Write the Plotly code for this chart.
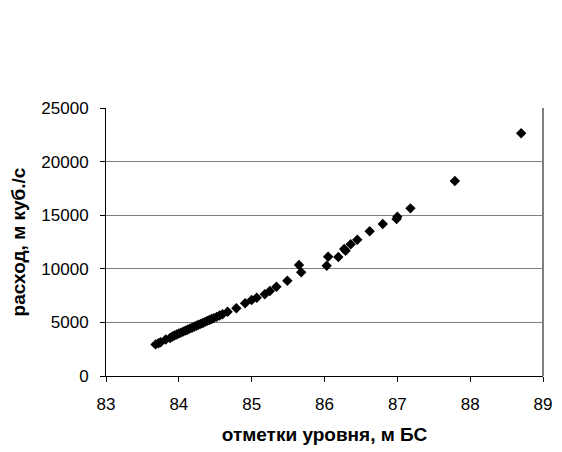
import plotly.graph_objects as go

level = [83.68, 83.72, 83.75, 83.82, 83.88, 83.91, 83.94, 83.97, 84.00, 84.03,
         84.06, 84.09, 84.12, 84.15, 84.18, 84.21, 84.24, 84.27, 84.30, 84.33,
         84.36, 84.39, 84.42, 84.45, 84.48, 84.52, 84.56, 84.60, 84.67, 84.79,
         84.91, 85.00, 85.07, 85.18, 85.25, 85.34, 85.49, 85.65, 85.68, 86.03,
         86.05, 86.19, 86.27, 86.29, 86.36, 86.45, 86.62, 86.80, 86.99, 87.00,
         87.18, 87.79, 88.70]
discharge = [2950, 3050, 3150, 3400, 3550, 3680, 3780, 3870, 3960, 4050,
             4140, 4230, 4320, 4420, 4500, 4600, 4690, 4780, 4860, 4950,
             5050, 5140, 5230, 5320, 5400, 5520, 5640, 5760, 5990, 6320,
             6780, 7090, 7300, 7620, 7930, 8330, 8880, 10350, 9670, 10290,
             11130, 11100, 11850, 11690, 12290, 12710, 13500, 14180, 14650, 14860,
             15640, 18190, 22650]

x_ticks = [83, 84, 85, 86, 87, 88, 89]
y_ticks = [0, 5000, 10000, 15000, 20000, 25000]

FAM = "Liberation Sans, Arial, sans-serif"

fig = go.Figure()
fig.add_trace(go.Scatter(
    x=level, y=discharge, mode="markers",
    marker=dict(symbol="diamond", size=8, color="black"),
    showlegend=False,
))

fig.update_layout(
    width=562, height=452,
    margin=dict(l=106, r=10, t=108, b=76),
    paper_bgcolor="white", plot_bgcolor="white",
    font=dict(family=FAM, size=17, color="black"),
    xaxis=dict(
        range=[83, 89], tickvals=x_ticks, ticks="outside", ticklen=5,
        tickcolor="black", showline=True, linecolor="black", linewidth=1,
        showgrid=False, zeroline=False, ticklabelstandoff=8,
        tickfont=dict(family=FAM, size=17),
        title=dict(text="<b>отметки уровня, м БС</b>", standoff=14,
                   font=dict(family=FAM, size=19)),
    ),
    yaxis=dict(
        range=[0, 25000], tickvals=y_ticks, tickformat="d",
        ticks="outside", ticklen=5,
        tickcolor="black", showline=True, linecolor="black", linewidth=1,
        showgrid=True, gridcolor="#808080", gridwidth=1, zeroline=False,
        ticklabelstandoff=8, tickfont=dict(family=FAM, size=17),
        title=dict(text="<b>расход, м куб./с</b>", standoff=10,
                   font=dict(family=FAM, size=19)),
    ),
    shapes=[
        dict(type="line", xref="paper", yref="paper", x0=1, x1=1, y0=0, y1=1,
             line=dict(color="#808080", width=2)),
    ],
)

fig.write_html("out.html")
